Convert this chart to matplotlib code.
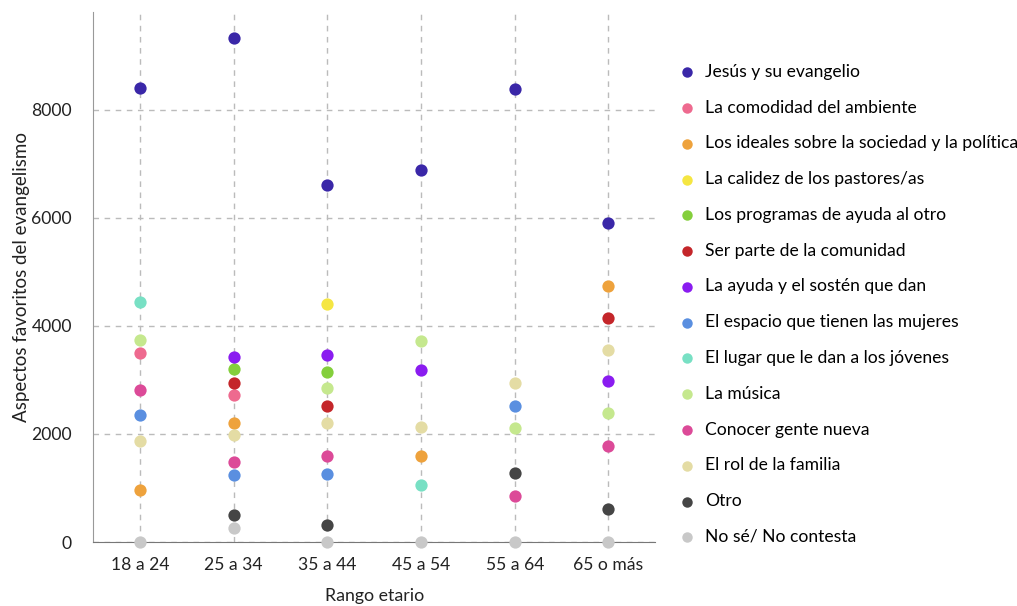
import numpy as np
import matplotlib.pyplot as plt

plt.rcParams['font.family'] = ['Lato', 'DejaVu Sans']

nan = np.nan

categorias = ["18 a 24", "25 a 34", "35 a 44", "45 a 54", "55 a 64", "65 o más"]

series = [
    "Jesús y su evangelio",
    "La comodidad del ambiente",
    "Los ideales sobre la sociedad y la política",
    "La calidez de los pastores/as",
    "Los programas de ayuda al otro",
    "Ser parte de la comunidad",
    "La ayuda y el sostén que dan",
    "El espacio que tienen las mujeres",
    "El lugar que le dan a los jóvenes",
    "La música",
    "Conocer gente nueva",
    "El rol de la familia",
    "Otro",
    "No sé/ No contesta",
]

colores = ["#3a27a8", "#ee6a8f", "#eea23c", "#f5e642", "#84cf3c", "#c4262a",
           "#8a1cf0", "#5a8fe0", "#78e0c4", "#c5e88e", "#dc4a98", "#e4dca4",
           "#454545", "#c8c8c8"]

# valores (nan = sin punto visible)
jesus = [8400, 9320, 6600, 6880, 8385, 5905]
comodidad = [3505, 2720, nan, nan, nan, nan]
ideales = [960, 2210, nan, 1600, nan, 4740]
calidez = [nan, nan, 4400, nan, nan, nan]
programas = [nan, 3200, 3155, nan, nan, nan]
ser_parte = [nan, 2945, 2510, nan, nan, 4150]
ayuda = [nan, 3430, 3455, 3180, nan, 2975]
espacio = [2360, 1240, 1265, nan, 2510, nan]
jovenes = [4450, nan, nan, 1060, nan, nan]
musica = [3735, nan, 2845, 3715, 2110, 2390]
conocer = [2820, 1490, 1600, nan, 855, 1780]
familia = [1870, 1975, 2205, 2130, 2945, 3560]
otro = [nan, 495, 315, nan, 1270, 605]
no_sabe = [0, 265, 0, 0, 0, 0]

valores = [jesus, comodidad, ideales, calidez, programas, ser_parte, ayuda,
           espacio, jovenes, musica, conocer, familia, otro, no_sabe]

fig = plt.figure(figsize=(10.17, 6.06), dpi=100)
ax = fig.add_axes([0.0914, 0.1056, 0.553, 0.875])

x = np.arange(len(categorias))
for nombre, vals, col in zip(series, valores, colores):
    ax.scatter(x, vals, s=78, color=col, label=nombre, zorder=3,
               linewidths=0, clip_on=False)

ax.set_xlim(-0.5, len(categorias) - 0.5)
ax.set_ylim(0, 9815)
ax.set_xticks(x)
ax.set_xticklabels(categorias, fontsize=12.6, color="#222222")
ax.set_yticks([0, 2000, 4000, 6000, 8000])
ax.tick_params(axis='y', labelsize=12.6, colors="#222222", length=0, pad=15)
ax.tick_params(axis='x', length=0, pad=11)
ax.grid(True, linestyle=(0, (4, 4)), color="#bbbbbb", linewidth=1)
ax.set_axisbelow(True)

for lado in ["top", "right"]:
    ax.spines[lado].set_visible(False)
ax.spines["left"].set_color("#999999")
ax.spines["bottom"].set_color("#777777")

ax.set_xlabel("Rango etario", fontsize=12.8, color="#222222", va="top")
ax.xaxis.set_label_coords(0.5, -0.087)
ax.set_ylabel("Aspectos favoritos del evangelismo", fontsize=13.5, color="#222222")
ax.yaxis.set_label_coords(-0.112, 0.5)

ax.legend(loc="upper left", bbox_to_anchor=(1.029, 0.915), frameon=False,
          fontsize=12.6, labelspacing=1.13, handlelength=1.0, handletextpad=0.53,
          markerscale=0.85, borderaxespad=0)

fig.savefig("out.png", dpi=100)
